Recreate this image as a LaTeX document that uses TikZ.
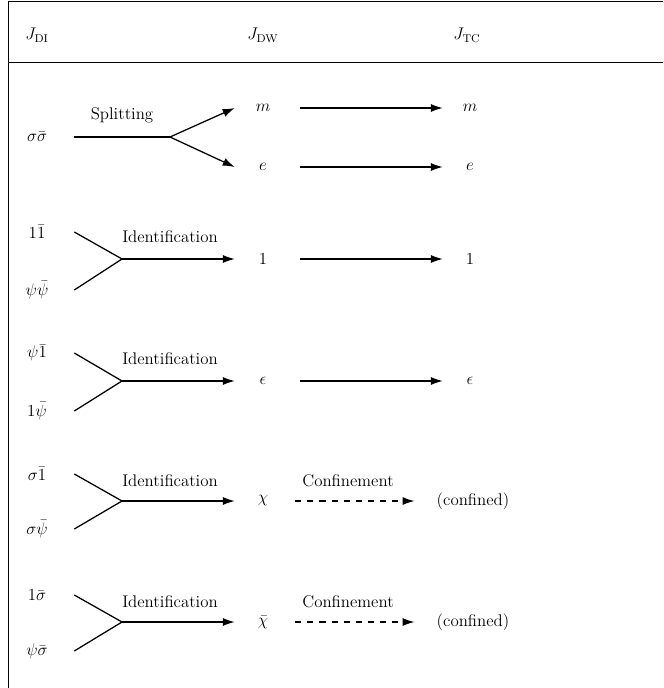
\documentclass[tikz,border=0pt]{standalone}
\usepackage{amsmath}
\usetikzlibrary{arrows.meta}

\tikzset{
  lbl/.style={font=\fontsize{12}{14.5}\selectfont, inner sep=0pt},
  colL/.style={lbl, minimum width=1.85cm},
  colM/.style={lbl, minimum width=1.4cm},
  colR/.style={lbl, minimum width=1.35cm},
  ln/.style={line width=0.9pt},
  arr/.style={line width=0.9pt, -{Latex[length=8.5pt,width=5.8pt]}},
  darr/.style={arr, dash pattern=on 4.3pt off 4.3pt},
}

\begin{document}
\begin{tikzpicture}[x=0.025cm, y=-0.025cm]
\useasboundingbox (0,0) rectangle (663,688);
% frame
\draw [line width=0.6pt] (8,688) -- (8,1) -- (663,1);
\draw [line width=0.6pt] (8,62) -- (663,62);
% header
\node [lbl] (hDI) at (37,35) {$J_{\mathrm{DI}}$};
\node [lbl] (hDW) at (263,35) {$J_{\mathrm{DW}}$};
\node [lbl] (hTC) at (467,35) {$J_{\mathrm{TC}}$};

% splitting
\node [colL] (ss) at (37,137) {$\sigma\bar{\sigma}$};
\coordinate (j1) at (170,137);
\node [colM] (m1) at (263,108) {$m$};
\node [colM] (e1) at (263,167) {$e$};
\node [colR] (m2) at (470,108) {$m$};
\node [colR] (e2) at (470,167) {$e$};
\node [lbl] (split) at (122,115) {Splitting};
\draw [ln] (ss.east) -- (j1);
\draw [arr] (j1) -- (m1.west);
\draw [arr] (j1) -- (e1.west);
\draw [arr, shorten <=0.225cm] (m1.east) -- (m2.west);
\draw [arr, shorten <=0.225cm] (e1.east) -- (e2.west);

% identification: 1
\node [colL] (a1) at (37,232) {$1\bar{1}$};
\node [colL] (b1) at (37,290) {$\psi\bar{\psi}$};
\coordinate (j2) at (122,259);
\node [colM] (one1) at (263,259) {$1$};
\node [colR] (one2) at (470,259) {$1$};
\node [lbl] (id1) at (170,237) {Identification};
\draw [ln] (a1.east) -- (j2) -- (b1.east);
\draw [arr] (j2) -- (one1.west);
\draw [arr, shorten <=0.225cm] (one1.east) -- (one2.west);

% identification: epsilon
\node [colL] (a2) at (37,353) {$\psi\bar{1}$};
\node [colL] (b2) at (37,411) {$1\bar{\psi}$};
\coordinate (j3) at (122,381);
\node [colM] (eps1) at (263,381) {$\epsilon$};
\node [colR] (eps2) at (470,381) {$\epsilon$};
\node [lbl] (id2) at (170,359) {Identification};
\draw [ln] (a2.east) -- (j3) -- (b2.east);
\draw [arr] (j3) -- (eps1.west);
\draw [arr, shorten <=0.225cm] (eps1.east) -- (eps2.west);

% identification + confinement: chi
\node [colL] (a3) at (37,474) {$\sigma\bar{1}$};
\node [colL] (b3) at (37,529) {$\sigma\bar{\psi}$};
\coordinate (j4) at (122,501);
\node [colM] (chi) at (263,501) {$\chi$};
\node [lbl] (conf1) at (473,501) {(confined)};
\node [lbl] (id3) at (170,481) {Identification};
\node [lbl] (cf1) at (348,481) {Confinement};
\draw [ln] (a3.east) -- (j4) -- (b3.east);
\draw [arr] (j4) -- (chi.west);
\draw [darr, shorten <=0.1cm, shorten >=0.55cm] (chi.east) -- (conf1.west);

% identification + confinement: chi bar
\node [colL] (a4) at (37,595) {$1\bar{\sigma}$};
\node [colL] (b4) at (37,651) {$\psi\bar{\sigma}$};
\coordinate (j5) at (122,622);
\node [colM] (chib) at (263,622) {$\bar{\chi}$};
\node [lbl] (conf2) at (473,622) {(confined)};
\node [lbl] (id4) at (170,602) {Identification};
\node [lbl] (cf2) at (348,602) {Confinement};
\draw [ln] (a4.east) -- (j5) -- (b4.east);
\draw [arr] (j5) -- (chib.west);
\draw [darr, shorten <=0.1cm, shorten >=0.55cm] (chib.east) -- (conf2.west);
\end{tikzpicture}
\end{document}
